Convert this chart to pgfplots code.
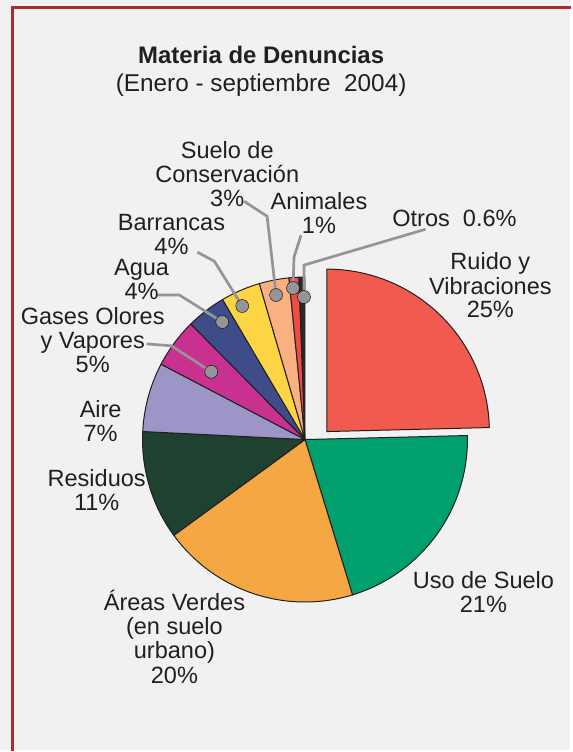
\documentclass[border=0pt]{standalone}
\usepackage{pgfplots}
\pgfplotsset{compat=1.18}
\usepackage{fontspec}
\setmainfont{Liberation Sans}
\definecolor{bg}{HTML}{F1F1F1}
\definecolor{frame}{HTML}{AD2B2E}
\definecolor{txt}{HTML}{231F20}
\definecolor{lead}{HTML}{939598}
\definecolor{pieline}{HTML}{231F20}
\definecolor{ruido}{HTML}{F05A4F}
\definecolor{uso}{HTML}{00A06E}
\definecolor{areas}{HTML}{F4A742}
\definecolor{residuos}{HTML}{1F4230}
\definecolor{aire}{HTML}{9B95C8}
\definecolor{gases}{HTML}{C8318F}
\definecolor{agua}{HTML}{3E4D8A}
\definecolor{barrancas}{HTML}{FDD444}
\definecolor{suelocons}{HTML}{FBB07F}
\definecolor{animales}{HTML}{EE4C44}
\definecolor{otros}{HTML}{2A2A2A}
\newcommand{\lab}[3]{\node[anchor=base, text=txt, font=\fontsize{23.6}{24}\selectfont, inner sep=0pt] at (axis cs:#1,#2) {#3};}
\begin{document}
\begin{tikzpicture}
\begin{axis}[scale only axis, width=572pt, height=752pt,
  xmin=0, xmax=572, ymin=0, ymax=752, y dir=reverse,
  hide axis, clip=false]
\fill[bg] (axis cs:0,0) rectangle (axis cs:572,752);
\draw[frame, line width=3pt] (axis cs:13,753) -- (axis cs:13,8) -- (axis cs:573,8);
% pie: value / colour / exploded
\foreach \v/\c/\e [remember=\b as \a (initially 90)] in
  {25/ruido/1, 21/uso/0, 20/areas/0, 11/residuos/0, 7/aire/0, 5/gases/0,
   4/agua/0, 4/barrancas/0, 3/suelocons/0, 1/animales/0, 0.6/otros/0} {
  \pgfmathsetmacro{\b}{\a-\v*360/101.6}
  \pgfmathsetmacro{\cx}{306+22*\e}
  \pgfmathsetmacro{\cy}{441-8*\e}
  \edef\temp{\noexpand\addplot[fill=\c, draw=pieline, line width=1pt, line join=round,
     domain=\b:\a, samples=60, mark=none]
     ({\cx+163*cos(x)},{\cy-163*sin(x)}) -- (axis cs:\cx,\cy) -- cycle;}
  \temp
}
% leader lines
\addplot[lead, line width=2.7pt, mark=none] coordinates {(245,202) (268,217) (277,296)};
\addplot[lead, line width=2.7pt, mark=none] coordinates {(302,236) (295,258) (294,289)};
\addplot[lead, line width=2.7pt, mark=none] coordinates {(427,230) (305,266) (305,298)};
\addplot[lead, line width=2.7pt, mark=none] coordinates {(198,253) (215,262) (243,307)};
\addplot[lead, line width=2.7pt, mark=none] coordinates {(157,296) (180,296) (223,323)};
\addplot[lead, line width=2.7pt, mark=none] coordinates {(147,345) (172,347) (212,373)};
\addplot[only marks, mark=*, mark size=6.5pt, mark options={fill=lead, draw=none}] coordinates
  {(277,296) (294,289) (305,298) (243,307) (223,323) (212,373)};
% title
\node[anchor=base, text=txt, font=\fontsize{24}{26}\selectfont\bfseries, inner sep=0pt] at (axis cs:262,64) {Materia de Denuncias};
\node[anchor=base, text=txt, font=\fontsize{24.4}{26}\selectfont, inner sep=0pt] at (axis cs:262,92) {(Enero - septiembre\ \ 2004)};
% labels
\lab{228}{159}{Suelo de}
\lab{228}{183}{Conservación}
\lab{228}{207}{3\%}
\lab{320}{210}{Animales}
\lab{320}{234}{1\%}
\lab{456}{227}{Otros\ \ 0.6\%}
\lab{172}{231}{Barrancas}
\lab{172}{255}{4\%}
\lab{142}{276}{Agua}
\lab{142}{300}{4\%}
\lab{93}{326}{Gases Olores}
\lab{93}{350}{y Vapores}
\lab{93}{374}{5\%}
\lab{101}{419}{Aire}
\lab{101}{443}{7\%}
\lab{97}{488}{Residuos}
\lab{97}{512}{11\%}
\lab{175}{613}{Áreas Verdes}
\lab{175}{637}{(en suelo}
\lab{175}{661}{urbano)}
\lab{175}{686}{20\%}
\lab{485}{590}{Uso de Suelo}
\lab{485}{615}{21\%}
\lab{492}{270}{Ruido y}
\lab{492}{295}{Vibraciones}
\lab{492}{319}{25\%}
\end{axis}
\end{tikzpicture}
\end{document}
